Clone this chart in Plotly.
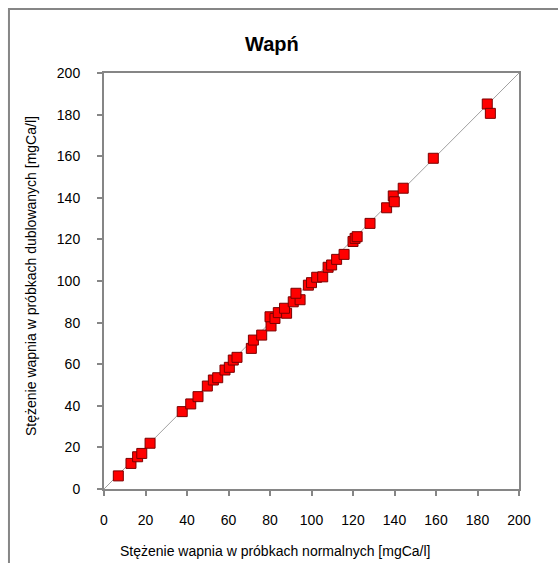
import plotly.graph_objects as go

# odczyty z wykresu: próbki normalne (x) i dublowane (y), mgCa/l
normalne = [6.9, 13.0, 16.2, 18.2, 22.2, 37.7, 41.8, 45.3, 49.8, 52.7,
            54.8, 58.3, 60.4, 62.3, 64.1, 71.0, 72.0, 76.0, 80.5, 80.0,
            82.4, 84.0, 88.0, 87.0, 91.2, 94.5, 92.5, 98.5, 100.0, 102.5,
            105.4, 108.0, 109.7, 112.1, 115.7, 120.0, 121.0, 122.0, 128.2, 136.2,
            139.4, 139.9, 144.2, 158.7, 184.7, 186.2]
dublowane = [6.3, 12.3, 15.5, 17.1, 22.0, 37.2, 40.9, 44.4, 49.5, 52.4,
             53.5, 57.2, 58.5, 62.0, 63.3, 67.6, 71.6, 74.0, 78.4, 82.8,
             82.0, 84.8, 84.5, 86.9, 90.0, 91.0, 94.1, 98.0, 99.2, 101.8,
             102.0, 106.6, 107.7, 110.4, 112.8, 119.0, 120.5, 121.3, 127.7, 135.2,
             140.9, 138.1, 144.6, 159.0, 185.1, 180.6]

linia = [0, 200]
ticks = list(range(0, 201, 20))

FONT = "Liberation Sans, Arial, sans-serif"
GRAY = "#868686"

fig = go.Figure()
fig.add_trace(go.Scatter(x=linia, y=linia, mode="lines",
                         line=dict(color="#a0a0a0", width=1), hoverinfo="skip"))
fig.add_trace(go.Scatter(x=normalne, y=dublowane, mode="markers",
                         marker=dict(symbol="square", size=10, color="#ff0000",
                                     line=dict(color="#7a0000", width=1))))

axis = dict(range=[0, 200], tickvals=ticks, showgrid=False, zeroline=False,
            showline=True, linecolor=GRAY, linewidth=2, mirror=True,
            ticks="outside", ticklen=5, tickcolor=GRAY, tickwidth=2,
            tickfont=dict(family=FONT, size=14, color="#000"))

fig.update_layout(
    width=558, height=563,
    margin=dict(l=104, r=39, t=73, b=74, autoexpand=False),
    paper_bgcolor="white", plot_bgcolor="white",
    showlegend=False,
    xaxis=dict(axis, ticklabelstandoff=12),
    yaxis=dict(axis, ticklabelstandoff=14),
    shapes=[dict(type="rect", xref="paper", yref="paper",
                 x0=-0.229, x1=1.3, y0=-0.4, y1=1.154,
                 line=dict(color=GRAY, width=2), layer="below")],
    annotations=[
        dict(text="<b>Wapń</b>", xref="paper", yref="paper", x=0.404, y=1.07,
             xanchor="center", yanchor="middle", showarrow=False,
             font=dict(family=FONT, size=20, color="#000")),
        dict(text="Stężenie wapnia w próbkach normalnych [mgCa/l]",
             xref="paper", yref="paper", x=0.414, y=-0.149,
             xanchor="center", yanchor="middle", showarrow=False,
             font=dict(family=FONT, size=14, color="#000")),
        dict(text="Stężenie wapnia w próbkach dublowanych [mgCa/l]",
             xref="paper", yref="paper", x=-0.176, y=0.512, textangle=-90,
             xanchor="center", yanchor="middle", showarrow=False,
             font=dict(family=FONT, size=14, color="#000")),
    ],
)

# bez domyślnego marginesu strony, żeby wykres wypełniał okno 558x563
fig.write_html("out.html", config={"displayModeBar": False},
               post_script="document.body.style.margin='0';document.body.style.overflow='hidden';")
